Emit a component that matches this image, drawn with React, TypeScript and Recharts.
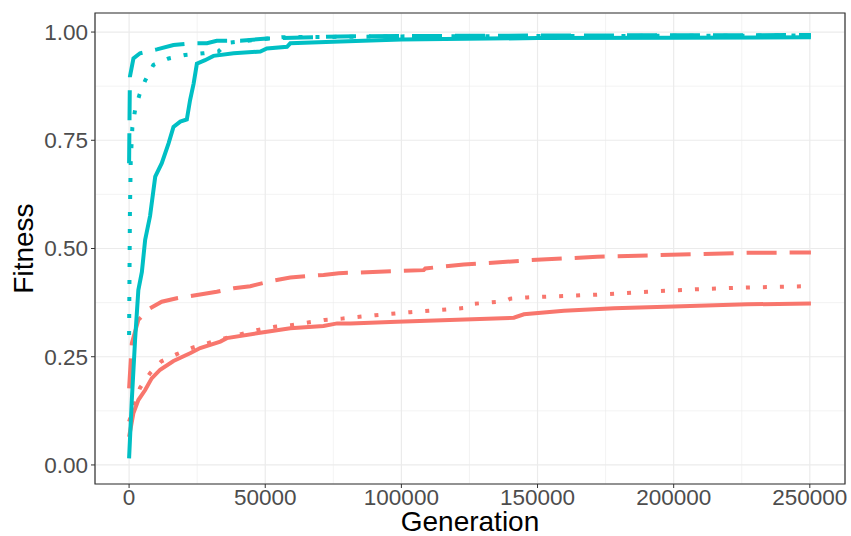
import React from "react";
import { LineChart, Line, XAxis, YAxis, CartesianGrid, ReferenceArea } from "recharts";

type P = [number, number];

const redSolid: P[] = [[0,0.065],[1600,0.12],[3400,0.15],[5900,0.173],[8300,0.2],[11400,0.22],[16300,0.24],[22400,0.258],[26100,0.27],[33500,0.285],[35900,0.293],[46900,0.304],[59200,0.316],[71400,0.321],[76400,0.327],[81300,0.327],[98400,0.331],[141300,0.34],[145000,0.348],[159700,0.356],[178100,0.362],[200100,0.366],[227100,0.371],[250400,0.373]];
const redDashed: P[] = [[0,0.177],[1000,0.281],[3400,0.335],[7700,0.362],[12000,0.377],[17500,0.385],[32200,0.4],[38400,0.408],[44500,0.413],[53100,0.426],[59200,0.433],[71400,0.439],[77000,0.443],[108200,0.45],[108800,0.454],[122900,0.463],[147400,0.473],[171900,0.481],[202600,0.486],[227100,0.49],[250400,0.491]];
const redDotted: P[] = [[0,0.1],[4000,0.178],[7700,0.212],[11800,0.239],[17500,0.256],[23300,0.271],[29200,0.282],[35300,0.293],[47300,0.312],[53400,0.319],[59500,0.323],[65700,0.329],[71800,0.335],[78200,0.338],[90400,0.346],[103300,0.353],[124000,0.363],[126000,0.372],[138000,0.378],[140000,0.384],[146200,0.387],[170700,0.393],[190300,0.4],[208700,0.406],[227100,0.41],[250400,0.413]];
const tealSolid: P[] = [[0,0.015],[1000,0.15],[2200,0.289],[3400,0.404],[4700,0.446],[5900,0.52],[7700,0.575],[9600,0.666],[12000,0.697],[14500,0.743],[16300,0.781],[18800,0.793],[21200,0.798],[22400,0.843],[23700,0.881],[24900,0.927],[27900,0.935],[31000,0.945],[38400,0.951],[48200,0.955],[50600,0.962],[58000,0.966],[59200,0.974],[77600,0.978],[100000,0.983],[150000,0.986],[200000,0.987],[250400,0.988]];
const tealDashed: P[] = [[0,0.697],[300,0.897],[1600,0.939],[4000,0.951],[10200,0.96],[16300,0.97],[22400,0.974],[28600,0.974],[32200,0.98],[40800,0.98],[50600,0.985],[77600,0.99],[150000,0.992],[250400,0.993]];
const tealDotted: P[] = [[0,0.3],[300,0.58],[600,0.7],[1200,0.78],[2200,0.82],[3800,0.855],[5900,0.888],[8900,0.924],[14500,0.939],[20600,0.947],[27300,0.951],[32800,0.955],[36000,0.975],[56100,0.988],[100000,0.99],[250400,0.992]];

const xTicks = [0, 50000, 100000, 150000, 200000, 250000];
const xMinorTicks = [25000, 75000, 125000, 175000, 225000];
const yTicks = [0, 0.25, 0.5, 0.75, 1];
const yMinorTicks = [0.125, 0.375, 0.625, 0.875];
const xDomain: [number, number] = [-12520, 262920];
const yDomain: [number, number] = [-0.044, 1.044];

const RED = "#F8766D";
const TEAL = "#00BFC4";
const toRows = (a: P[]) => a.map(([x, y]) => ({ x, y }));

const series = [
  { name: "redSolid", data: redSolid, color: RED, dash: undefined },
  { name: "redDashed", data: redDashed, color: RED, dash: "30 13" },
  { name: "redDotted", data: redDotted, color: RED, dash: "4 13" },
  { name: "tealSolid", data: tealSolid, color: TEAL, dash: undefined },
  { name: "tealDashed", data: tealDashed, color: TEAL, dash: "30 13" },
  { name: "tealDotted", data: tealDotted, color: TEAL, dash: "4 13" },
];

const FONT = "'Liberation Sans', Arial, sans-serif";

export default function App() {
  return (
    <div style={{ position: "absolute", left: 0, top: 0, fontFamily: FONT }}>
      <LineChart width={851} height={536} margin={{ top: 13, right: 6, left: 0, bottom: 0 }}>
        <XAxis xAxisId="minor" dataKey="x" type="number" domain={xDomain} ticks={xMinorTicks} allowDataOverflow hide />
        <YAxis yAxisId="minor" type="number" domain={yDomain} ticks={yMinorTicks} allowDataOverflow hide />
        <CartesianGrid xAxisId="minor" yAxisId="minor" stroke="#EBEBEB" strokeWidth={0.6} />
        <CartesianGrid stroke="#EBEBEB" strokeWidth={1.2} />
        <XAxis
          dataKey="x"
          type="number"
          domain={xDomain}
          ticks={xTicks}
          allowDataOverflow
          height={52}
          tick={{ fill: "#4D4D4D", fontSize: 22.5, fontFamily: FONT }}
          tickLine={{ stroke: "#333333" }}
          tickSize={4}
          tickMargin={1}
          axisLine={false}
          label={{ value: "Generation", position: "insideBottom", offset: 5, fill: "#000", fontSize: 28, fontFamily: FONT }}
        />
        <YAxis
          type="number"
          domain={yDomain}
          ticks={yTicks}
          allowDataOverflow
          width={95}
          tickFormatter={(v: number) => v.toFixed(2)}
          tick={{ fill: "#4D4D4D", fontSize: 22.5, fontFamily: FONT }}
          tickLine={{ stroke: "#333333" }}
          tickSize={4}
          tickMargin={3}
          axisLine={false}
          label={{ value: "Fitness", angle: -90, position: "insideLeft", offset: 23, fill: "#000", fontSize: 28, fontFamily: FONT, style: { textAnchor: "middle" } }}
        />
        {series.map((s) => (
          <Line
            key={s.name}
            data={toRows(s.data)}
            dataKey="y"
            type="linear"
            stroke={s.color}
            strokeWidth={4}
            strokeDasharray={s.dash}
            strokeLinecap="butt"
            dot={false}
            activeDot={false}
            isAnimationActive={false}
          />
        ))}
        <ReferenceArea x1={xDomain[0]} x2={xDomain[1]} y1={yDomain[0]} y2={yDomain[1]} fill="none" stroke="#333333" strokeWidth={1.2} ifOverflow="visible" />
      </LineChart>
    </div>
  );
}
